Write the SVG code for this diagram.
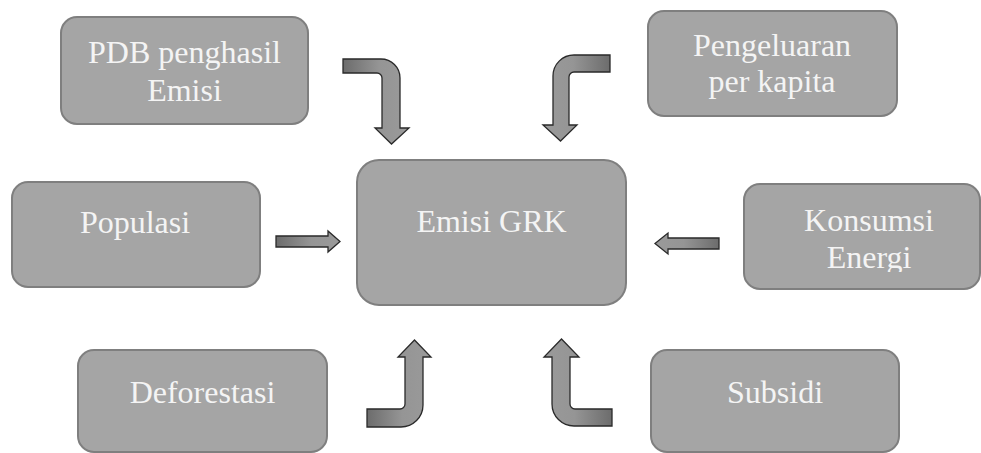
<svg xmlns="http://www.w3.org/2000/svg" width="981" height="453" viewBox="0 0 981 453">
<defs>
<style>
.box{fill:#a5a5a5;stroke:#7f7f7f;stroke-width:2}
.lbl{font-family:"Liberation Serif","Times New Roman",serif;font-size:32px;fill:#f4f4f4;text-anchor:middle}
.arr{stroke:#2a2a2a;stroke-width:1.3;stroke-linejoin:miter}
</style>
<linearGradient id="gL" x1="0" y1="0" x2="1" y2="0">
<stop offset="0" stop-color="#6c6c6c"/><stop offset="0.55" stop-color="#959595"/><stop offset="1" stop-color="#9a9a9a"/>
</linearGradient>
<linearGradient id="gR" x1="1" y1="0" x2="0" y2="0">
<stop offset="0" stop-color="#6c6c6c"/><stop offset="0.55" stop-color="#959595"/><stop offset="1" stop-color="#9a9a9a"/>
</linearGradient>
<clipPath id="clipK"><rect x="744" y="184" width="237" height="88"/></clipPath>
</defs>
<rect width="981" height="453" fill="#ffffff"/>

<g id="node-pdb">
<rect class="box" x="61" y="17" width="247" height="107" rx="16"/>
<text class="lbl" x="184.5" y="63">PDB penghasil</text>
<text class="lbl" x="184.5" y="101">Emisi</text>
</g>
<g id="node-pengeluaran">
<rect class="box" x="648" y="11" width="249" height="105" rx="16"/>
<text class="lbl" x="772" y="56">Pengeluaran</text>
<text class="lbl" x="772" y="92">per kapita</text>
</g>
<g id="node-populasi">
<rect class="box" x="12" y="182" width="248" height="105" rx="16"/>
<text class="lbl" x="135" y="233">Populasi</text>
</g>
<g id="node-emisi">
<rect class="box" x="357" y="160" width="269" height="145" rx="22"/>
<text class="lbl" x="491.5" y="232">Emisi GRK</text>
</g>
<g id="node-konsumsi">
<rect class="box" x="744" y="184" width="236" height="105" rx="16"/>
<g clip-path="url(#clipK)">
<text class="lbl" x="869" y="231">Konsumsi</text>
<text class="lbl" x="869" y="268">Energi</text>
</g>
</g>
<g id="node-deforestasi">
<rect class="box" x="78" y="350" width="249" height="102" rx="16"/>
<text class="lbl" x="202.5" y="403">Deforestasi</text>
</g>
<g id="node-subsidi">
<rect class="box" x="651" y="350" width="248" height="102" rx="16"/>
<text class="lbl" x="775" y="403">Subsidi</text>
</g>

<g id="connectors">
<path class="arr" fill="url(#gL)" d="M343,59 H381 A19,19 0 0 1 400,78 V128 H409 L391.5,144 L375,128 H382 V78 A5,5 0 0 0 377,73 H343 Z"/>
<path class="arr" fill="url(#gR)" d="M610,55 H574 A21,21 0 0 0 553,76 V125 H543 L560.5,141 L577,125 H569 V77 A5,5 0 0 1 574,72 H610 Z"/>
<path class="arr" fill="url(#gL)" d="M276,236 H328 V231 L340,241.5 L328,252 V247 H276 Z"/>
<path class="arr" fill="url(#gR)" d="M719,238 H668 V233 L655,243.5 L668,254 V249 H719 Z"/>
<path class="arr" fill="url(#gL)" d="M367,409 H400 A5,5 0 0 0 405,404 V357 H398 L414.5,340 L431,357 H423 V405 A22,22 0 0 1 401,427 H367 Z"/>
<path class="arr" fill="url(#gR)" d="M612,409 H575 A5,5 0 0 1 570,404 V357 H579 L561.5,339 L544,357 H552 V404 A22,22 0 0 0 574,426 H612 Z"/>
</g>
</svg>
